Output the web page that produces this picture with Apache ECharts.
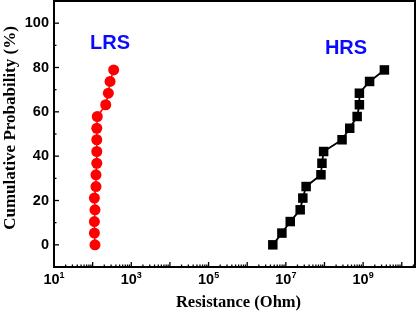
<!DOCTYPE html>
<html>
<head>
<meta charset="utf-8">
<script src="https://cdn.jsdelivr.net/npm/echarts@6/dist/echarts.min.js"></script>
<style>html,body{margin:0;padding:0;background:#fff;}#c{width:420px;height:313px;}</style>
</head>
<body>
<div id="c"></div>
<script>
// Data
const probability = [0, 5.3, 10.5, 15.8, 21.1, 26.3, 31.6, 36.8, 42.1, 47.4, 52.6, 57.9, 63.2, 68.4, 73.7, 78.9];
const lrsOhm = [115, 111, 111, 115, 111, 122, 122, 128, 128, 128, 128, 132, 218, 255, 282, 350];
const hrsOhm = [4.6e6, 7.9e6, 1.3e7, 2.35e7, 2.75e7, 3.35e7, 8.1e7, 8.6e7, 9.5e7, 2.85e8, 4.5e8, 7.0e8, 8.0e8, 8.0e8, 1.47e9, 3.55e9];
const yTickLabels = [0, 20, 40, 60, 80, 100];
const xLabelExponents = [1, 3, 5, 7, 9];
const stateLabels = ['LRS', 'HRS'];
const yTitle = 'Cumulative Probability (%)';

const chart = echarts.init(document.getElementById('c'));
const sans = 'Liberation Sans';
const serif = 'Liberation Serif';

function pairs(xs, ys) { return xs.map((x, i) => [x, ys[i]]); }

chart.setOption({
  animation: false,
  grid: { left: 54, right: 5, top: 1, bottom: 46, containLabel: false, outerBoundsMode: 'none', show: true, borderColor: '#000', borderWidth: 2, backgroundColor: 'transparent' },
  xAxis: {
    type: 'log', logBase: 10, min: 10, max: 2.2e10, interval: 1,
    name: 'Resistance (Ohm)', nameLocation: 'middle', nameGap: 27,
    nameTextStyle: { fontFamily: serif, fontWeight: 'bold', fontSize: 16.5, color: '#000', padding: [0, 0, 0, 8] },
    axisLine: { onZero: false, lineStyle: { color: '#000', width: 2 } },
    axisTick: { show: false },
    splitLine: { show: false },
    axisLabel: {
      margin: 4, showMaxLabel: false,
      formatter: function (v) {
        const l = Math.log10(v), e = Math.round(l);
        if (Math.abs(l - e) > 0.01 || xLabelExponents.indexOf(e) < 0) return '';
        return '{b|10}{s|' + e + '}';
      },
      rich: {
        b: { fontFamily: sans, fontWeight: 'bold', fontSize: 14.5, color: '#000', lineHeight: 18 },
        s: { fontFamily: sans, fontWeight: 'bold', fontSize: 9, color: '#000', verticalAlign: 'top', lineHeight: 10 }
      }
    }
  },
  yAxis: {
    type: 'value', min: -10, max: 110, interval: 10,
    axisLine: { onZero: false, lineStyle: { color: '#000', width: 2 } },
    axisTick: { show: false },
    splitLine: { show: false },
    axisLabel: {
      margin: 5, fontFamily: sans, fontWeight: 'bold', fontSize: 14.5, color: '#000',
      formatter: function (v) { return yTickLabels.indexOf(v) >= 0 ? String(v) : ''; }
    }
  },
  series: [
    {
      name: 'LRS', type: 'line', data: pairs(lrsOhm, probability),
      symbol: 'circle', symbolSize: 11,
      itemStyle: { color: '#ff0000' }, lineStyle: { color: '#ff0000', width: 1.5 }
    },
    {
      name: 'HRS', type: 'line', data: pairs(hrsOhm, probability),
      symbol: 'rect', symbolSize: 9.5,
      itemStyle: { color: '#000' }, lineStyle: { color: '#000', width: 1.8 }
    }
  ]
});

// Ticks drawn through the axes' own scales (inward major/minor ticks)
const els = [];
const yBottom = chart.convertToPixel({ yAxisIndex: 0 }, -10);
const xLeft = chart.convertToPixel({ xAxisIndex: 0 }, 10);
function vline(x, len) {
  els.push({ type: 'line', silent: true, shape: { x1: x, y1: yBottom, x2: x, y2: yBottom - len }, style: { stroke: '#000', lineWidth: 1.3 } });
}
function hline(y, len) {
  els.push({ type: 'line', silent: true, shape: { x1: xLeft, y1: y, x2: xLeft + len, y2: y }, style: { stroke: '#000', lineWidth: 1.3 } });
}
for (let e = 1; e <= 10; e++) {
  const base = Math.pow(10, e);
  vline(chart.convertToPixel({ xAxisIndex: 0 }, base), 5);
  for (let k = 2; k <= 9; k++) {
    const v = k * base;
    if (v < 2.2e10) vline(chart.convertToPixel({ xAxisIndex: 0 }, v), 2.5);
  }
}
for (let v = 0; v <= 100; v += 20) hline(chart.convertToPixel({ yAxisIndex: 0 }, v), 5);
for (let v = 10; v <= 90; v += 20) hline(chart.convertToPixel({ yAxisIndex: 0 }, v), 2.5);

els.push({ type: 'text', silent: true, x: 10.5, y: 128, rotation: Math.PI / 2, style: { text: yTitle, fill: '#000', font: 'bold 17px "Liberation Serif"', align: 'center', verticalAlign: 'middle' } });
els.push({ type: 'text', silent: true, x: 110, y: 43, style: { text: stateLabels[0], fill: '#0a0aff', font: 'bold 20px "Liberation Sans"', align: 'center', verticalAlign: 'middle' } });
els.push({ type: 'text', silent: true, x: 346, y: 48, style: { text: stateLabels[1], fill: '#0a0aff', font: 'bold 20px "Liberation Sans"', align: 'center', verticalAlign: 'middle' } });

chart.setOption({ graphic: els });
</script>
</body>
</html>
